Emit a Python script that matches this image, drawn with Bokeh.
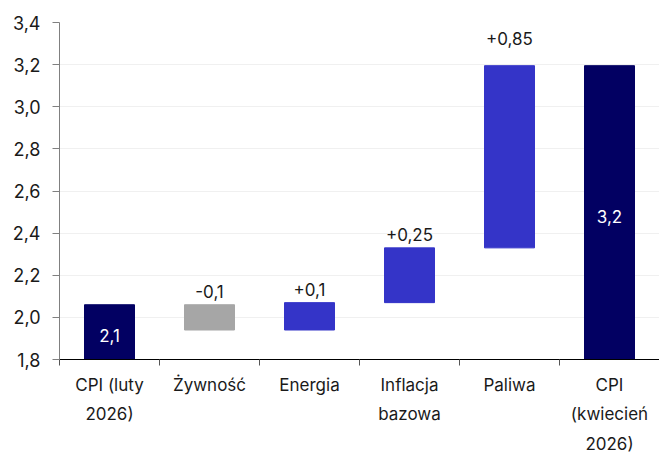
from bokeh.plotting import figure
from bokeh.models import (Range1d, LinearAxis, FixedTicker,
                          CustomJSTickFormatter, ColumnDataSource, LabelSet)
from bokeh.core.properties import value
from bokeh.embed import file_html
from bokeh.resources import INLINE

categories = ["CPI (luty\n2026)", "Żywność", "Energia", "Inflacja\nbazowa", "Paliwa",
              "CPI\n(kwiecień\n2026)"]
start_value = 2.06
changes = [-0.12, 0.13, 0.26, 0.865]
end_value = 3.195
value_labels = ["2,1", "-0,1", "+0,1", "+0,25", "+0,85", "3,2"]
y_ticks = [1.8, 2.0, 2.2, 2.4, 2.6, 2.8, 3.0, 3.2, 3.4]

NAVY = "#020062"
BLUE = "#3434C8"
GRAY = "#A6A6A6"
FONT = "Inter"
TXT = "#1a1a1a"

n = len(categories)
xpos = [i + 0.5 for i in range(n)]

# build waterfall geometry from the data
bottoms, tops, colors = [], [], []
bottoms.append(0.0); tops.append(start_value); colors.append(NAVY)
level = start_value
for c in changes:
    new = level + c
    bottoms.append(min(level, new)); tops.append(max(level, new))
    colors.append(GRAY if c < 0 else BLUE)
    level = new
bottoms.append(0.0); tops.append(end_value); colors.append(NAVY)

y0 = y_ticks[0]
is_total = [True] + [False] * len(changes) + [True]
label_y, label_color, label_off = [], [], []
for i, t in enumerate(is_total):
    if t:
        label_y.append((max(bottoms[i], y0) + tops[i]) / 2)
        label_color.append("white")
        label_off.append(-10)
    else:
        label_y.append(tops[i])
        label_color.append(TXT)
        label_off.append(7)
label_off[4] = 21  # Paliwa label sits higher in the original

src = ColumnDataSource(dict(x=xpos, bottom=bottoms, top=tops, color=colors,
                            ly=label_y, lc=label_color, lt=value_labels, lo=label_off))

p = figure(x_range=Range1d(0, n), y_range=Range1d(y_ticks[0], y_ticks[-1]),
           width=659, height=457, output_backend="svg", toolbar_location=None,
           x_axis_location=None, min_border_left=59, min_border_right=0,
           min_border_top=22, min_border_bottom=97)
p.outline_line_color = None

p.vbar(x="x", bottom="bottom", top="top", width=0.5, color="color", source=src)

# y axis
ya = p.yaxis[0]
ya.ticker = FixedTicker(ticks=y_ticks)
ya.formatter = CustomJSTickFormatter(code="return tick.toFixed(1).replace('.', ',');")
ya.axis_line_color = "#808080"
ya.major_tick_line_color = "#808080"
ya.major_tick_out = 7
ya.major_tick_in = 0
ya.minor_tick_line_color = None
ya.major_label_text_font = FONT
ya.major_label_text_font_size = "18px"
ya.major_label_text_color = TXT
ya.major_label_standoff = 12

p.ygrid.grid_line_color = "#F0F0F0"
p.xgrid.grid_line_color = None

# bottom tick axis at category boundaries
ta = LinearAxis(ticker=FixedTicker(ticks=list(range(n + 1))),
                formatter=CustomJSTickFormatter(code="return '';"))
ta.axis_line_color = "black"
ta.major_tick_line_color = "#555555"
ta.major_tick_out = 6
ta.major_tick_in = 0
ta.minor_tick_line_color = None
ta.major_label_text_font_size = "1px"
ta.major_label_standoff = 0
p.add_layout(ta, "below")

# category label axis
ca = LinearAxis(ticker=FixedTicker(ticks=xpos),
                formatter=CustomJSTickFormatter(args=dict(labels=categories),
                                                code="return labels[Math.floor(tick)];"))
ca.axis_line_color = None
ca.major_tick_line_color = None
ca.minor_tick_line_color = None
ca.major_label_text_font = FONT
ca.major_label_text_font_size = "17px"
ca.major_label_text_color = TXT
ca.major_label_text_line_height = 1.49
ca.major_label_standoff = 3
p.add_layout(ca, "below")

labels = LabelSet(x="x", y="ly", text="lt", y_offset="lo", text_color="lc", source=src,
                  text_align="center", text_baseline="bottom", text_font=value(FONT),
                  text_font_size="17px")
p.add_layout(labels)

open("out.html", "w").write(file_html(p, INLINE))
